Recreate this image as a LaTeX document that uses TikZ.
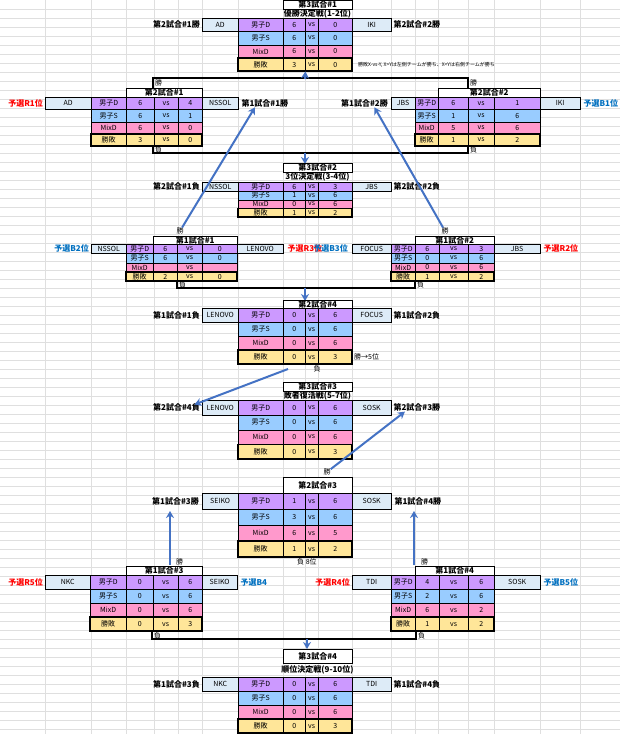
\documentclass[tikz,border=0pt]{standalone}
\usepackage{fontspec}
\setmainfont{Noto Sans CJK JP}
\usetikzlibrary{arrows.meta,positioning}

\definecolor{c1}{HTML}{CC99FF}
\definecolor{c2}{HTML}{99CCFF}
\definecolor{c3}{HTML}{FF99CC}
\definecolor{c4}{HTML}{FFE699}
\definecolor{team}{HTML}{DDEBF7}
\definecolor{arr}{HTML}{4472C4}
\definecolor{qblue}{HTML}{0070C0}

\tikzset{
  cellbox/.style={draw,inner sep=0pt,font=\fontsize{7}{7}\selectfont},
  lab/.style={inner sep=0pt,font=\fontsize{8}{8}\selectfont\bfseries},
  tiny/.style={inner sep=0pt,font=\fontsize{7}{7}\selectfont},
  brk/.style={line width=1.3pt},
  flow/.style={draw=arr,line width=2.5pt,-{Stealth[length=7pt,width=8pt]}},
}

% one cell: name, x1, y1, x2, y2, options, text
\newcommand\cell[7]{%
  \pgfmathsetmacro\cw{(#4)-(#2)}\pgfmathsetmacro\ch{(#5)-(#3)}%
  \node[cellbox,#6,minimum width=\cw pt,minimum height=\ch pt,anchor=north west] (#1) at (#2,#3) {#7};}
\newcommand\rowname[1]{\ifcase#1\or 男子D\or 男子S\or MixD\or 勝敗\fi}
% score table: name, column edges (7), top; uses \rh, \tl, \tr, \res
\newcommand\match[9]{%
  \cell{#1-l}{#2}{#9}{#3}{#9+\rh}{fill=team}{\tl}
  \cell{#1-r}{#7}{#9}{#8}{#9+\rh}{fill=team}{\tr}
  \foreach \a/\b [count=\i] in \res {
    \pgfmathsetmacro\ya{#9+(\i-1)*\rh}
    \pgfmathsetmacro\yb{#9+\i*\rh}
    \cell{#1-n\i}{#3}{\ya}{#4}{\yb}{fill=c\i}{\rowname{\i}}
    \cell{#1-a\i}{#4}{\ya}{#5}{\yb}{fill=c\i}{\a}
    \cell{#1-v\i}{#5}{\ya}{#6}{\yb}{fill=c\i}{vs}
    \cell{#1-b\i}{#6}{\ya}{#7}{\yb}{fill=c\i}{\b}
  }
  \draw[line width=1.5pt] (#3,#9+3*\rh) rectangle (#7,#9+4*\rh);
}

\begin{document}
\begin{tikzpicture}[x=1pt,y=-1pt]
  \useasboundingbox[fill=white] (0,0) rectangle (620,734);
  % sheet grid
  \foreach \x in {45,91,126,154,178,202,238,283,305,318,352,391,415,438,468,494,540,580}
    \draw[gray!25] (\x,0) -- (\x,734);
  \foreach \y in {9,18,...,734}
    \draw[gray!25] (0,\y) -- (620,\y);

  % final
  \cell{t31-t}{283}{0}{352}{9}{fill=white,font=\fontsize{8}{8}\selectfont\bfseries}{第3試合\#1}
  \node[lab] (t31-s) at (317.5,13.5) {優勝決定戦(1-2位)};
  \def\rh{13.25}\def\tl{AD}\def\tr{IKI}\def\res{6/0,6/0,6/0,3/0}
  \match{t31}{202}{238}{283}{305}{318}{352}{391}{18}
  \node[lab,left=2pt of t31-l] (t31-ll) {第2試合\#1勝};
  \node[lab,right=2pt of t31-r] (t31-rl) {第2試合\#2勝};
  \node[inner sep=0pt,font=\fontsize{5}{5}\selectfont,anchor=west] (note) at (358,65) {勝敗X-vs-Y, X>Yは左側チームが勝ち、X<Yは右側チームが勝ち};

  % second round, upper
  \cell{t21-t}{126}{88}{202}{97}{fill=white,font=\fontsize{8}{8}\selectfont\bfseries}{第2試合\#1}
  \def\rh{12.25}\def\tl{AD}\def\tr{NSSOL}\def\res{6/4,6/1,6/0,3/0}
  \match{t21}{45}{91}{126}{154}{178}{202}{238}{97}
  \node[lab,red,left=2pt of t21-l] (t21-ll) {予選R1位};
  \node[lab,right=3pt of t21-r] (t21-rl) {第1試合\#1勝};
  \cell{t22-t}{438}{88}{540}{97}{fill=white,font=\fontsize{8}{8}\selectfont\bfseries}{第2試合\#2}
  \def\tl{JBS}\def\tr{IKI}\def\res{6/1,1/6,5/6,1/2}
  \match{t22}{391}{415}{438}{468}{494}{540}{580}{97}
  \node[lab,left=3pt of t22-l] (t22-ll) {第1試合\#2勝};
  \node[lab,qblue,right=3pt of t22-r] (t22-rl) {予選B1位};
  \draw[brk] (153,88) -- (153,78) -- (468,78) -- (468,88);
  \draw[brk] (153,146) -- (153,153) -- (468,153) -- (468,146);
  \node[tiny,anchor=west] (w21) at (155,83) {勝};
  \node[tiny,anchor=west] (w22) at (470,83) {勝};
  \node[tiny,anchor=west] (l21) at (155,150) {負};
  \node[tiny,anchor=west] (l22) at (470,150) {負};
  \coordinate (up1) at (305,79);
  \coordinate (dn1) at (305,153);
  \draw[flow] (up1) -- (t31-a4.south east);
  \draw[flow] (dn1) -- (305,164);

  % third place
  \cell{t32-t}{283}{163}{352}{172}{fill=white,font=\fontsize{8}{8}\selectfont\bfseries}{第3試合\#2}
  \node[lab] (t32-s) at (317.5,177) {3位決定戦(3-4位)};
  \def\rh{8.75}\def\tl{NSSOL}\def\tr{JBS}\def\res{6/3,1/6,0/6,1/2}
  \match{t32}{202}{238}{283}{305}{318}{352}{391}{182}
  \node[lab,left=2pt of t32-l] (t32-ll) {第2試合\#1負};
  \node[lab,right=2pt of t32-r] (t32-rl) {第2試合\#2負};

  % first round, upper
  \cell{t11-t}{153}{236}{237}{244}{fill=white,font=\fontsize{8}{8}\selectfont\bfseries}{第1試合\#1}
  \def\rh{9.25}\def\tl{NSSOL}\def\tr{LENOVO}\def\res{6/0,6/0,/,2/0}
  \match{t11}{91}{126}{153}{177}{202}{237}{283}{244}
  \node[lab,qblue,left=2pt of t11-l] (t11-ll) {予選B2位};
  \node[lab,red,right=4pt of t11-r] (t11-rl) {予選R3位};
  \cell{t12-t}{415}{236}{494}{244}{fill=white,font=\fontsize{8}{8}\selectfont\bfseries}{第1試合\#2}
  \def\tl{FOCUS}\def\tr{JBS}\def\res{6/3,0/6,0/6,1/2}
  \match{t12}{352}{391}{415}{439}{468}{494}{540}{244}
  \node[lab,qblue,left=4pt of t12-l] (t12-ll) {予選B3位};
  \node[lab,red,right=3pt of t12-r] (t12-rl) {予選R2位};
  \node[tiny] (w11) at (180,231) {勝};
  \node[tiny] (w12) at (445,231) {勝};
  \draw[brk] (177,281) -- (177,288) -- (415,288) -- (415,281);
  \node[tiny,anchor=west] (l11) at (179,285) {負};
  \node[tiny,anchor=west] (l12) at (417,285) {負};
  \coordinate (dn2) at (305,288);
  \draw[flow,line width=2pt] (w11) -- ([xshift=-10pt]t21-rl.south);
  \draw[flow,line width=2pt] (w12) -- ([xshift=10pt]t22-ll.south);
  \draw[flow] (dn2) -- (305,301);

  % second round, lower
  \cell{t24-t}{283}{300}{352}{308}{fill=white,font=\fontsize{8}{8}\selectfont\bfseries}{第2試合\#4}
  \def\rh{14}\def\tl{LENOVO}\def\tr{FOCUS}\def\res{0/6,0/6,0/6,0/3}
  \match{t24}{202}{238}{283}{305}{318}{352}{391}{308}
  \node[lab,left=2pt of t24-l] (t24-ll) {第1試合\#1負};
  \node[lab,right=2pt of t24-r] (t24-rl) {第1試合\#2負};
  \node[tiny,anchor=west] (t24-w) at (354,357) {勝→5位};
  \node[tiny] (l24) at (317,369) {負};

  \cell{t33-t}{283}{382}{352}{391}{fill=white,font=\fontsize{8}{8}\selectfont\bfseries}{第3試合\#3}
  \node[lab] (t33-s) at (317.5,395.5) {敗者復活戦(5-7位)};
  \def\rh{14.75}\def\tl{LENOVO}\def\tr{SOSK}\def\res{0/6,0/6,0/6,0/3}
  \match{t33}{202}{238}{283}{305}{318}{352}{391}{400}
  \node[lab,left=2pt of t33-l] (t33-ll) {第2試合\#4負};
  \node[lab,right=2pt of t33-r] (t33-rl) {第2試合\#3勝};
  \coordinate (c24) at (288,369);
  \draw[flow,line width=2pt] (c24) -- ([xshift=18pt,yshift=-1pt]t33-ll.north);

  \cell{t23-t}{283}{477}{352}{493}{fill=white,font=\fontsize{8}{8}\selectfont\bfseries}{第2試合\#3}
  \def\rh{16}\def\tl{SEIKO}\def\tr{SOSK}\def\res{1/6,3/6,6/5,1/2}
  \match{t23}{202}{238}{283}{305}{318}{352}{391}{493}
  \node[lab,left=3pt of t23-l] (t23-ll) {第1試合\#3勝};
  \node[lab,right=3pt of t23-r] (t23-rl) {第1試合\#4勝};
  \node[tiny] (w23) at (327,472) {勝};
  \node[tiny,anchor=west] (l23) at (297,562) {負 8位};
  \draw[flow,line width=2pt] (w23) -- ([xshift=-12pt]t33-rl.south);

  % first round, lower
  \cell{t13-t}{126}{566}{202}{575}{fill=white,font=\fontsize{8}{8}\selectfont\bfseries}{第1試合\#3}
  \def\rh{14}\def\tl{NKC}\def\tr{SEIKO}\def\res{0/6,0/6,0/6,0/3}
  \match{t13}{45}{90}{126}{153}{178}{202}{237}{575}
  \node[lab,red,left=2pt of t13-l] (t13-ll) {予選R5位};
  \node[lab,qblue,right=3pt of t13-r] (t13-rl) {予選B4};
  \cell{t14-t}{415}{566}{494}{575}{fill=white,font=\fontsize{8}{8}\selectfont\bfseries}{第1試合\#4}
  \def\tl{TDI}\def\tr{SOSK}\def\res{4/6,2/6,6/2,1/2}
  \match{t14}{352}{391}{415}{439}{468}{494}{540}{575}
  \node[lab,red,left=2pt of t14-l] (t14-ll) {予選R4位};
  \node[lab,qblue,right=3pt of t14-r] (t14-rl) {予選B5位};
  \node[tiny,anchor=west] (w13) at (176,562) {勝};
  \node[tiny,anchor=west] (w14) at (421,562) {勝};
  \coordinate (u13) at (170,565);
  \coordinate (u14) at (414,565);
  \draw[flow] (u13) -- (170,511);
  \draw[flow] (u14) -- (414,511);
  \draw[brk] (152,631) -- (152,639) -- (416,639) -- (416,631);
  \node[tiny,anchor=west] (l13) at (154,636) {負};
  \node[tiny,anchor=west] (l14) at (418,636) {負};
  \coordinate (dn3) at (307,639);

  % last places
  \cell{t34-t}{283}{649}{352}{663}{fill=white,font=\fontsize{8}{8}\selectfont\bfseries}{第3試合\#4}
  \node[lab] (t34-s) at (317.5,670) {順位決定戦(9-10位)};
  \def\rh{14}\def\tl{NKC}\def\tr{TDI}\def\res{0/6,0/6,0/6,0/3}
  \match{t34}{202}{238}{283}{305}{318}{352}{391}{677}
  \node[lab,left=2pt of t34-l] (t34-ll) {第1試合\#3負};
  \node[lab,right=2pt of t34-r] (t34-rl) {第1試合\#4負};
  \draw[flow] (dn3) -- (t34-t.north -| dn3);
\end{tikzpicture}
\end{document}
